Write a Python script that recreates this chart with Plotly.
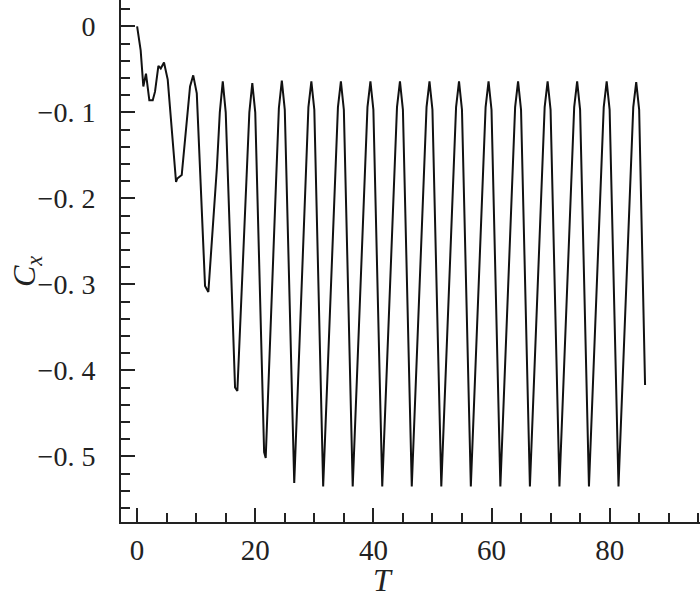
import plotly.graph_objects as go

# Data (vertices of the polyline)
T = [0.0, 0.6, 1.05, 1.5, 2.07, 2.64, 3.03, 3.6, 4.0, 4.55, 5.18, 6.59, 6.8, 7.55, 8.96, 9.5, 10.1, 11.5, 12.06,
     13.5, 14.0, 14.5, 15.0, 16.58, 16.97,
     18.5, 19.0, 19.5, 20.0, 21.5, 21.77,
     23.5, 24.0, 24.5, 25.0, 26.6,
     28.5, 29.0, 29.5, 30.0, 31.5,
     33.5, 34.0, 34.5, 35.0, 36.5,
     38.5, 39.0, 39.5, 40.0, 41.5,
     43.5, 44.0, 44.5, 45.0, 46.5,
     48.5, 49.0, 49.5, 50.0, 51.5,
     53.5, 54.0, 54.5, 55.0, 56.5,
     58.5, 59.0, 59.5, 60.0, 61.5,
     63.5, 64.0, 64.5, 65.0, 66.5,
     68.5, 69.0, 69.5, 70.0, 71.5,
     73.5, 74.0, 74.5, 75.0, 76.5,
     78.5, 79.0, 79.5, 80.0, 81.5,
     83.5, 84.0, 84.5, 85.0, 86.0]
Cx = [0.0, -0.028, -0.070, -0.055, -0.086, -0.086, -0.076, -0.046, -0.049, -0.042, -0.062, -0.181, -0.177, -0.173, -0.070, -0.057, -0.078, -0.302, -0.309,
      -0.165, -0.100, -0.064, -0.100, -0.420, -0.424,
      -0.190, -0.100, -0.066, -0.100, -0.495, -0.502,
      -0.185, -0.095, -0.063, -0.097, -0.531,
      -0.183, -0.094, -0.064, -0.097, -0.535,
      -0.183, -0.094, -0.064, -0.097, -0.535,
      -0.183, -0.094, -0.064, -0.097, -0.535,
      -0.183, -0.094, -0.064, -0.097, -0.535,
      -0.183, -0.094, -0.064, -0.097, -0.535,
      -0.183, -0.094, -0.064, -0.097, -0.535,
      -0.183, -0.094, -0.064, -0.097, -0.535,
      -0.183, -0.094, -0.064, -0.097, -0.535,
      -0.183, -0.094, -0.064, -0.097, -0.535,
      -0.183, -0.094, -0.064, -0.097, -0.535,
      -0.183, -0.094, -0.064, -0.097, -0.535,
      -0.183, -0.094, -0.065, -0.097, -0.417]

x_tickvals = [0, 20, 40, 60, 80]
x_ticktext = ["0", "20", "40", "60", "80"]
y_tickvals = [0, -0.1, -0.2, -0.3, -0.4, -0.5]
y_ticktext = ["0", "\u22120. 1", "\u22120. 2", "\u22120. 3", "\u22120. 4", "\u22120. 5"]

FONT = "Liberation Serif, DejaVu Serif, serif"
INK = "#222222"

fig = go.Figure()
fig.add_trace(go.Scatter(x=T, y=Cx, mode="lines",
                         line=dict(color="#111111", width=2), showlegend=False))

fig.update_layout(
    width=700, height=601,
    margin=dict(l=121, r=0, t=0, b=79, autoexpand=False),
    paper_bgcolor="white", plot_bgcolor="white",
    font=dict(family=FONT, color=INK, size=28),
    xaxis=dict(range=[-2.73, 95.3], showgrid=False, zeroline=False, automargin=False,
               showline=True, linecolor=INK, linewidth=2,
               ticks="inside", ticklen=14, tickwidth=2, tickcolor=INK,
               tickmode="array", tickvals=x_tickvals, ticktext=x_ticktext,
               tickfont=dict(family=FONT, size=29, color=INK),
               ticklabelstandoff=1,
               minor=dict(ticks="inside", ticklen=9, tickwidth=2, tickcolor=INK,
                          tickmode="linear", tick0=0, dtick=5, showgrid=False)),
    yaxis=dict(range=[-0.5764, 0.0306], showgrid=False, zeroline=False, automargin=False,
               showline=True, linecolor=INK, linewidth=2,
               ticks="inside", ticklen=14, tickwidth=2, tickcolor=INK,
               tickmode="array", tickvals=y_tickvals, ticktext=y_ticktext,
               tickfont=dict(family=FONT, size=28, color=INK),
               ticklabelstandoff=18,
               minor=dict(ticks="inside", ticklen=9, tickwidth=2, tickcolor=INK,
                          tickmode="linear", tick0=0, dtick=0.02, showgrid=False)),
    annotations=[
        dict(text="<i>T</i>", xref="paper", yref="paper", x=(383 - 121) / 579, y=(522 - 580) / 522,
             xanchor="center", yanchor="middle", showarrow=False,
             font=dict(family=FONT, size=32, color=INK)),
        dict(text="<i>C</i><sub><i>x</i></sub>", xref="paper", yref="paper",
             x=(26 - 121) / 579, y=(522 - 272) / 522, textangle=-90,
             xanchor="center", yanchor="middle", showarrow=False,
             font=dict(family=FONT, size=32, color=INK)),
    ],
)

fig.write_html("out.html", config={"displayModeBar": False},
               post_script="document.body.style.margin='0';document.body.style.overflow='hidden';")
